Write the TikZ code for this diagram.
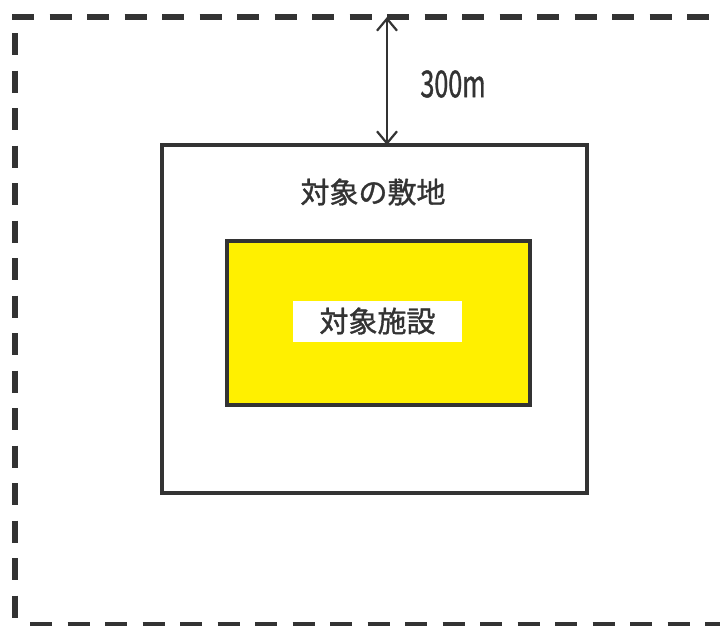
\documentclass[tikz,border=0pt]{standalone}
\usepackage{fontspec}
\newfontfamily\jp[FakeBold=1.2]{Noto Sans CJK JP}
\usetikzlibrary{arrows.meta}
\definecolor{ink}{HTML}{333333}
\definecolor{facyellow}{HTML}{FFF000}
\tikzset{
  bound/.style={draw=ink, line width=6pt, dash pattern=on 22pt off 15.5pt},
  boxline/.style={draw=ink, line width=4pt, outer sep=0pt, inner sep=0pt},
  jptext/.style={font=\jp\fontsize{29pt}{29pt}\selectfont, text=ink},
  dim/.style={draw=ink, line width=2.2pt, {Straight Barb[length=12pt,width=20pt,line width=2.2pt]}-{Straight Barb[length=12pt,width=20pt,line width=2.2pt]}}
}
\begin{document}
\begin{tikzpicture}[x=1pt,y=-1pt]
\useasboundingbox (0,0) rectangle (720,625);
\fill[white] (0,0) rectangle (720,625);
% dashed boundary (300m)
\draw[bound] (12,17) -- (722,17);
\draw[bound] (15,33) -- (15,628);
\draw[bound] (30,625) -- (722,625);
% site
\node[boxline, minimum width=425pt, minimum height=348pt, anchor=north west] (site) at (161.5,145) {};
\node[jptext] (sitelabel) at (373,192) {対象の敷地};
% facility
\node[boxline, fill=facyellow, minimum width=303pt, minimum height=164pt, anchor=north west] (fac) at (227,241) {};
\node[jptext, fill=white, minimum width=169pt, minimum height=41pt, inner sep=0pt] (faclabel) at (377.5,321) {対象施設};
% dimension
\coordinate (top) at (387,17);
\coordinate (bot) at (site.north -| top);
\draw[dim] (top) -- (bot);
\node[font=\jp\fontsize{37pt}{37pt}\selectfont, text=ink, xscale=0.68, anchor=west] (dimlabel) at (418,84) {300m};
\end{tikzpicture}
\end{document}
